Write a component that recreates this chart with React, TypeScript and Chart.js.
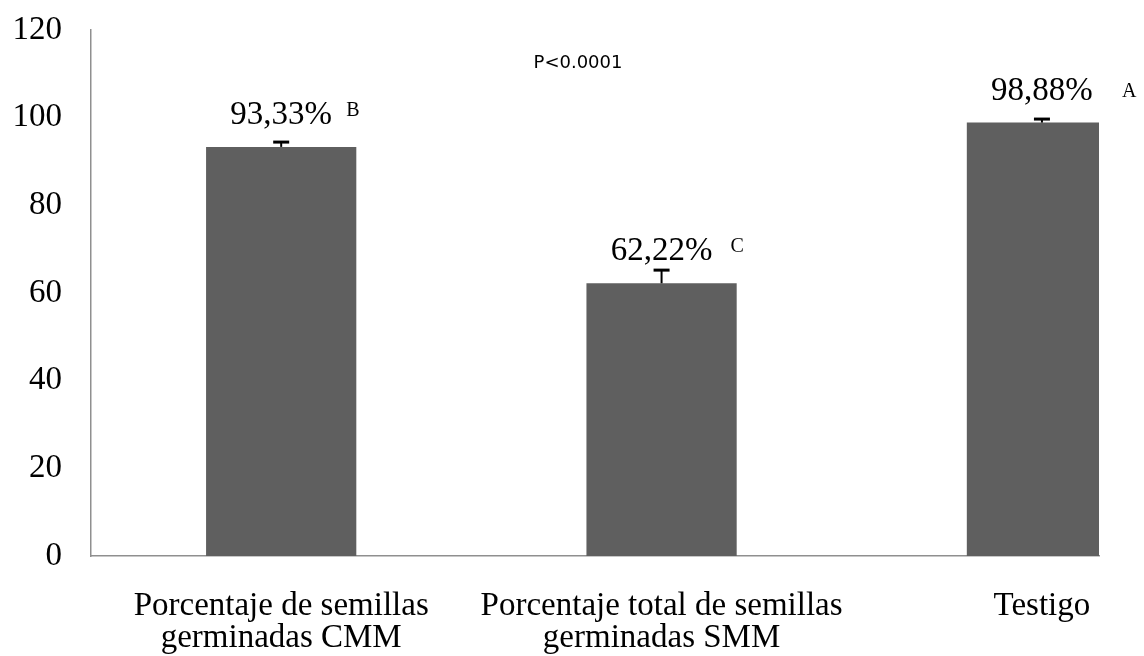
import React, { useEffect, useRef } from "react";
import { Chart, registerables } from "chart.js";

Chart.register(...registerables);

// Treatments on the x axis (multi-line labels)
const categories: string[][] = [
  ["Porcentaje de semillas", "germinadas CMM"],
  ["Porcentaje total de semillas", "germinadas SMM"],
  ["Testigo"],
];
// Germination percentage per treatment
const values: number[] = [93.33, 62.22, 98.88];
// Standard error shown above each bar
const errors: number[] = [1.1, 3.0, 0.8];
// Significance groups
const groupLetters: string[] = ["B", "C", "A"];
// Y axis ticks
const yTicks: number[] = [0, 20, 40, 60, 80, 100, 120];
const pValueText = "P<0.0001";

const SERIF = "'Liberation Serif', 'Times New Roman', serif";
const SANS = "'DejaVu Sans', sans-serif";
const BAR_COLOR = "#5f5f5f";
const AXIS_COLOR = "#8f8f8f";

// horizontal / vertical nudges for the group letters next to each value label
const letterDx = [65, 69, 80];
const letterDy = [-8, -8, -3];

const formatPct = (v: number) => v.toFixed(2).replace(".", ",") + "%";

const annotationPlugin = {
  id: "barAnnotations",
  afterDatasetsDraw(chart: any) {
    const { ctx } = chart;
    const xs = chart.scales.x;
    const ys = chart.scales.y;
    ctx.save();
    ctx.strokeStyle = "#000";
    values.forEach((v, i) => {
      const cx = xs.getPixelForValue(i);
      const yTop = ys.getPixelForValue(v);
      const yErr = ys.getPixelForValue(v + errors[i]);
      ctx.lineWidth = 2;
      ctx.beginPath();
      ctx.moveTo(cx, yTop);
      ctx.lineTo(cx, yErr);
      ctx.stroke();
      ctx.lineWidth = 3;
      ctx.beginPath();
      ctx.moveTo(cx - 8, yErr);
      ctx.lineTo(cx + 8, yErr);
      ctx.stroke();
    });
    ctx.restore();
  },
  afterDraw(chart: any) {
    const { ctx } = chart;
    const xs = chart.scales.x;
    const ys = chart.scales.y;
    ctx.save();
    ctx.fillStyle = "#000";
    ctx.textBaseline = "alphabetic";
    values.forEach((v, i) => {
      const cx = xs.getPixelForValue(i);
      const base = ys.getPixelForValue(v) - 23;
      ctx.font = `33px ${SERIF}`;
      ctx.textAlign = "center";
      ctx.fillText(formatPct(v), cx, base);
      ctx.font = `20px ${SERIF}`;
      ctx.textAlign = "left";
      ctx.fillText(groupLetters[i], cx + letterDx[i], base + letterDy[i]);
    });
    ctx.font = `18px ${SANS}`;
    ctx.textAlign = "center";
    ctx.fillText(pValueText, 578, 68);
    ctx.restore();
  },
};

export default function App() {
  const canvasRef = useRef<HTMLCanvasElement | null>(null);

  useEffect(() => {
    if (!canvasRef.current) return;
    const chart = new Chart(canvasRef.current, {
      type: "bar",
      data: {
        datasets: [
          {
            data: values.map((v, i) => ({ x: i, y: v })),
            backgroundColor: BAR_COLOR,
            borderWidth: 0,
            categoryPercentage: 1,
            barPercentage: 0.395,
          },
        ],
      },
      options: {
        responsive: false,
        animation: false,
        layout: {
          padding: { top: 30, right: 45, left: 0, bottom: 0 },
        },
        plugins: {
          legend: { display: false },
          tooltip: { enabled: false },
        },
        scales: {
          x: {
            type: "linear",
            offset: false,
            min: -0.5,
            max: 2.15,
            grid: { display: false, drawTicks: false, offset: false },
            border: { color: AXIS_COLOR, width: 1.5 },
            afterBuildTicks: (scale: any) => {
              scale.ticks = categories.map((_, i) => ({ value: i }));
            },
            afterFit: (scale: any) => {
              scale.height = 100;
              scale.paddingLeft = 0;
              scale.paddingRight = 0;
            },
            ticks: {
              autoSkip: false,
              maxRotation: 0,
              padding: 34,
              color: "#000",
              font: { family: SERIF, size: 33, lineHeight: 0.97 },
              callback: (v: any) => categories[Math.round(Number(v))] ?? "",
            },
          },
          y: {
            min: 0,
            max: 120,
            grid: { display: false, drawTicks: false },
            border: { color: AXIS_COLOR, width: 1.5 },
            afterBuildTicks: (scale: any) => {
              scale.ticks = yTicks.map((t) => ({ value: t }));
            },
            afterFit: (scale: any) => {
              scale.width = 91;
              scale.paddingTop = 0;
              scale.paddingBottom = 0;
            },
            ticks: {
              padding: 29,
              color: "#000",
              font: { family: SERIF, size: 33 },
            },
          },
        },
      },
      plugins: [annotationPlugin],
    });
    return () => chart.destroy();
  }, []);

  return (
    <div
      style={{
        position: "fixed",
        left: 0,
        top: 0,
        width: 1144,
        height: 656,
        background: "#fff",
        overflow: "hidden",
      }}
    >
      <canvas ref={canvasRef} width={1144} height={656} />
    </div>
  );
}
